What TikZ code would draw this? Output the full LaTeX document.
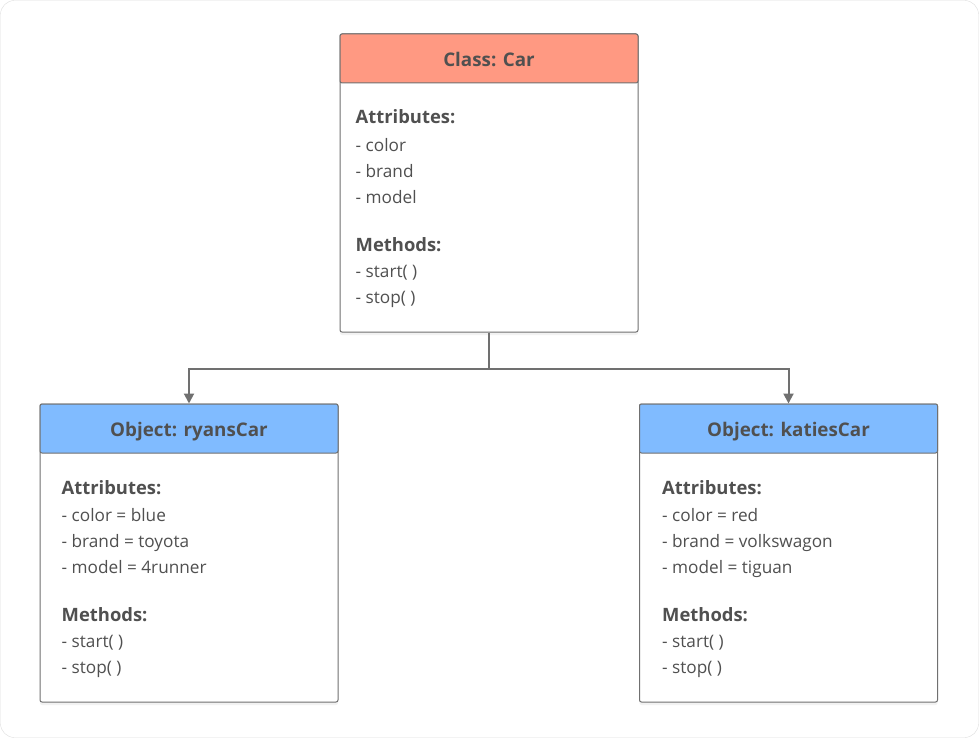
\documentclass[tikz,border=0pt]{standalone}
\usepackage{fontspec}
\setmainfont{Open Sans}
\usetikzlibrary{arrows.meta, positioning, shadows}
\definecolor{classred}{RGB}{255,153,130}
\definecolor{objblue}{RGB}{128,187,255}
\definecolor{edgegray}{RGB}{112,112,112}
\definecolor{txtgray}{RGB}{80,80,80}
\definecolor{framegray}{RGB}{222,222,222}

\begin{document}
\begin{tikzpicture}[x=1pt,y=-1pt,
  umlbox/.style={draw=edgegray, line width=1pt, rounded corners=2pt, fill=white,
    minimum width=298pt, minimum height=298pt, inner sep=0pt,
    drop shadow={opacity=0.10, shadow xshift=0pt, shadow yshift=-3pt}},
  umlhead/.style={draw=edgegray, line width=1pt, rounded corners=2pt, anchor=north,
    minimum width=298pt, minimum height=49pt, inner sep=0pt, text=txtgray,
    text height=17pt, text depth=1pt,
    font=\fontsize{18.8}{22}\selectfont\bfseries},
  sect/.style={anchor=west, inner sep=0pt, text height=13pt, text depth=4pt,
    text=txtgray, font=\fontsize{18.4}{22}\selectfont\bfseries},
  item/.style={anchor=west, inner sep=0pt, text height=12pt, text depth=4pt,
    text=txtgray, font=\fontsize{17.2}{20}\selectfont},
  conn/.style={draw=edgegray, line width=2pt, -{Triangle[width=10pt,length=10pt]}}]
  % frame
  \useasboundingbox (0,0) rectangle (979,738);
  \draw[framegray, fill=white, rounded corners=14pt] (0.5,0.5) rectangle (978.5,737.5);
  % class
  \node[umlbox] (cls) at (489,183) {};
  \node[umlhead, fill=classred] (clsHead) at (cls.north) {Class: Car};
  \node[sect] at ([shift={(16,86)}]cls.north west) {Attributes:};
  \foreach \txt/\dy in {- color/114, - brand/140, - model/166}
    \node[item] at ([shift={(16,\dy)}]cls.north west) {\txt};
  \node[sect] at ([shift={(16,213)}]cls.north west) {Methods:};
  \foreach \txt/\dy in {- start( )/240, - stop( )/266}
    \node[item] at ([shift={(16,\dy)}]cls.north west) {\txt};
  % object ryansCar
  \node[umlbox] (objL) at (189,553) {};
  \node[umlhead, fill=objblue] (objLHead) at (objL.north) {Object: ryansCar};
  \node[sect] at ([shift={(22,86)}]objL.north west) {Attributes:};
  \foreach \txt/\dy in {- color = blue/114, - brand = toyota/140, - model = 4runner/166}
    \node[item] at ([shift={(22,\dy)}]objL.north west) {\txt};
  \node[sect] at ([shift={(22,213)}]objL.north west) {Methods:};
  \foreach \txt/\dy in {- start( )/240, - stop( )/266}
    \node[item] at ([shift={(22,\dy)}]objL.north west) {\txt};
  % object katiesCar
  \node[umlbox] (objR) at (788.5,553) {};
  \node[umlhead, fill=objblue] (objRHead) at (objR.north) {Object: katiesCar};
  \node[sect] at ([shift={(23,86)}]objR.north west) {Attributes:};
  \foreach \txt/\dy in {- color = red/114, - brand = volkswagon/140, - model = tiguan/166}
    \node[item] at ([shift={(23,\dy)}]objR.north west) {\txt};
  \node[sect] at ([shift={(23,213)}]objR.north west) {Methods:};
  \foreach \txt/\dy in {- start( )/240, - stop( )/266}
    \node[item] at ([shift={(23,\dy)}]objR.north west) {\txt};
  % connectors
  \coordinate (fork) at ([yshift=-36pt]cls.south);
  \draw[conn] (cls.south) -- (fork) -| (objLHead.north);
  \draw[conn] (cls.south) -- (fork) -| (objRHead.north);
\end{tikzpicture}
\end{document}
